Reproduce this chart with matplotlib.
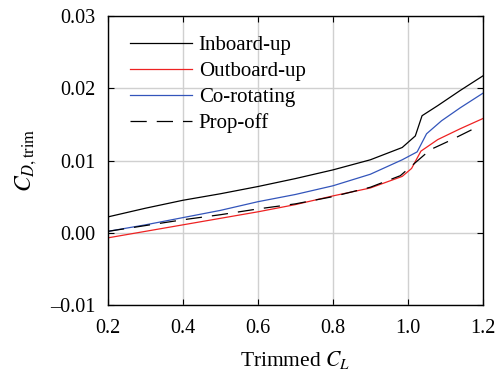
import matplotlib
matplotlib.use("Agg")
import matplotlib.pyplot as plt

plt.rcParams['font.family'] = ['Liberation Serif', 'DejaVu Serif']
plt.rcParams['mathtext.fontset'] = 'stix'

# data
x_inboard = [0.2, 0.3, 0.4, 0.5, 0.6, 0.7, 0.8, 0.9, 0.985, 1.02, 1.038, 1.08, 1.14, 1.2]
cd_inboard = [0.0022, 0.0034, 0.0045, 0.0054, 0.0064, 0.0075, 0.0087, 0.0101, 0.0118,
              0.0134, 0.0162, 0.0176, 0.0197, 0.0217]

x_outboard = [0.2, 0.3, 0.4, 0.5, 0.6, 0.7, 0.8, 0.9, 0.985, 1.01, 1.035, 1.08, 1.14, 1.2]
cd_outboard = [-0.0007, 0.0002, 0.0011, 0.0020, 0.0029, 0.0039, 0.0051, 0.0062, 0.0078,
               0.0089, 0.0113, 0.0129, 0.0144, 0.0158]

x_corot = [0.2, 0.3, 0.4, 0.5, 0.6, 0.7, 0.8, 0.9, 0.985, 1.025, 1.05, 1.09, 1.14, 1.2]
cd_corot = [0.0002, 0.0011, 0.0021, 0.0031, 0.0043, 0.0053, 0.0065, 0.0081, 0.0101,
            0.0112, 0.0137, 0.0155, 0.0173, 0.0193]

x_propoff = [0.2, 0.3, 0.4, 0.5, 0.6, 0.7, 0.8, 0.9, 0.98, 1.0, 1.06, 1.11, 1.18]
cd_propoff = [0.0002, 0.0010, 0.0018, 0.0025, 0.0033, 0.0040, 0.0050, 0.0063, 0.0079,
              0.0088, 0.0115, 0.0127, 0.0145]

xticks = [0.2, 0.4, 0.6, 0.8, 1.0, 1.2]
yticks = [-0.01, 0.00, 0.01, 0.02, 0.03]

fig = plt.figure(figsize=(5.01, 3.72), dpi=100)
ax = fig.add_axes([0.2156, 0.180, 0.748, 0.777])

lw = 0.9
ax.plot(x_inboard, cd_inboard, color='black', lw=lw, label='Inboard-up')
ax.plot(x_outboard, cd_outboard, color='#ee2222', lw=lw, label='Outboard-up')
ax.plot(x_corot, cd_corot, color='#3355bb', lw=lw, label='Co-rotating')
ax.plot(x_propoff, cd_propoff, color='black', lw=lw, ls=(0, (13, 8)), label='Prop-off')

ax.set_xlim(0.2, 1.2)
ax.set_ylim(-0.01, 0.03)
ax.set_xticks(xticks)
ax.set_yticks(yticks)
ax.set_xticklabels(['%.1f' % v for v in xticks])
ax.set_yticklabels(['\u20130.01' if v < 0 else '%.2f' % v for v in yticks])
ax.grid(True, color='#d0d0d0', lw=1.0)
ax.set_axisbelow(True)
ax.tick_params(direction='in', length=4, labelsize=14.5, top=True, right=True)
ax.tick_params(axis='x', pad=10)
ax.tick_params(axis='y', pad=9)
for s in ax.spines.values():
    s.set_linewidth(1.0)

ax.set_xlabel('Trimmed $C_L$', fontsize=15.5, labelpad=8)
ax.set_ylabel('$C_{D,\\mathrm{trim}}$', fontsize=17, labelpad=8)

leg = ax.legend(loc='upper left', bbox_to_anchor=(0.025, 0.975), frameon=False,
                fontsize=15, handlelength=3.0, handletextpad=0.3, labelspacing=0.3,
                borderaxespad=0.2)

fig.savefig('out.png', dpi=100)
